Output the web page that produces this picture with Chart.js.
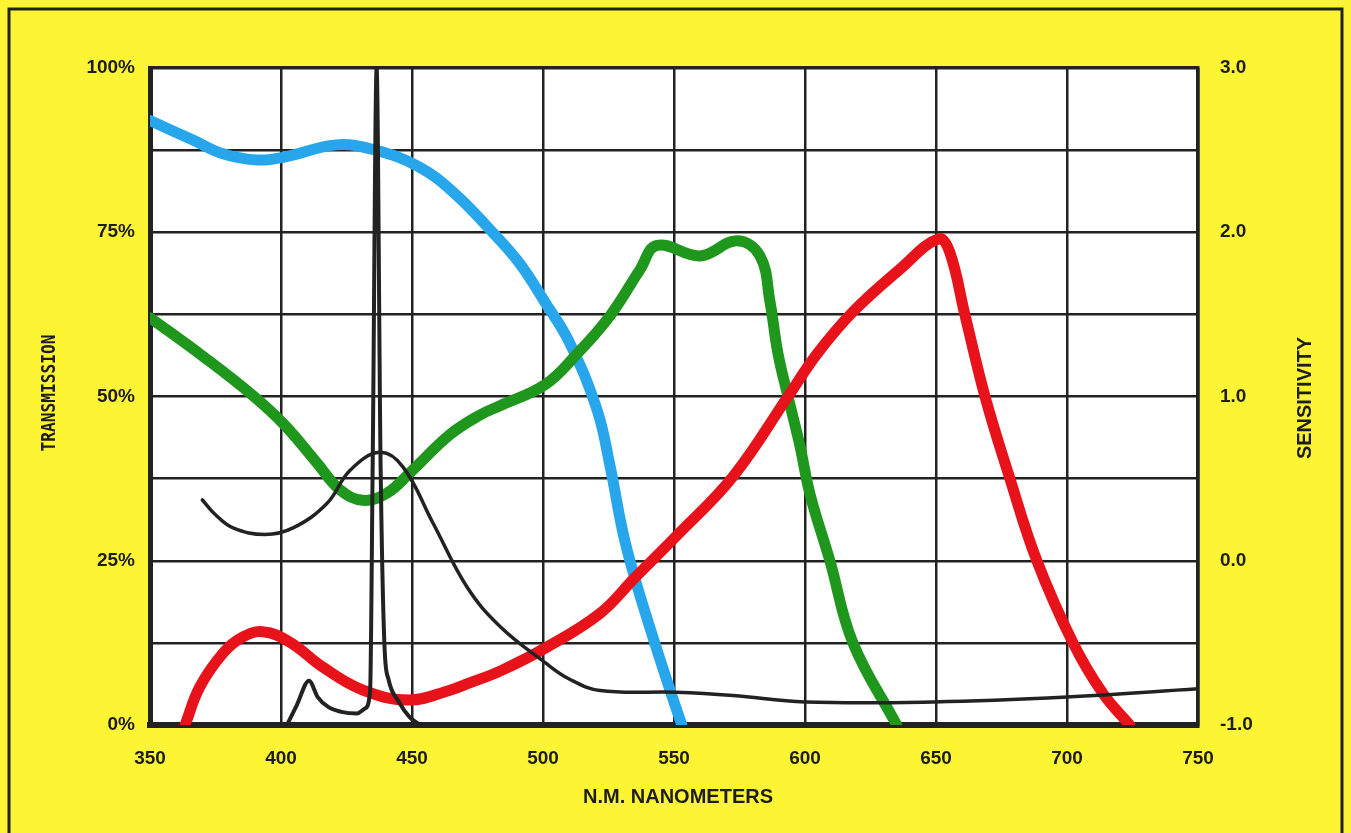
<!DOCTYPE html>
<html lang="en">
<head>
  <meta charset="UTF-8">
  <title>Transmission / Sensitivity</title>
  <script src="https://cdn.jsdelivr.net/npm/chart.js"></script>
  <style>
    body {
      margin: 0;
      padding: 0;
      background: #fdf433;
    }
    canvas {
      display: block;
    }
  </style>
</head>
<body>
  <canvas id="filterChart" width="1351" height="833"></canvas>

  <script>
    // blue filter, transmission %
    const blueNm = [350, 366.6, 377.5, 391, 402, 421, 436, 452.5, 466, 480, 491, 500.5, 510, 520.6, 525.6, 530.5, 535, 542, 548.5, 553];
    const blueT = [92, 89, 87, 86, 86.5, 88.3, 87.5, 85, 81, 75.3, 70.3, 64.5, 58.3, 48, 39.4, 29.3, 22.4, 13.3, 5.3, 0];

    // green filter
    const greenNm = [350, 370.6, 389.7, 401.5, 413.7, 422.5, 431.3, 440.5, 449.2, 464.5, 476, 483.6, 500.8, 513, 525.6, 537, 543.5, 560, 574, 582.8, 586.6, 589.7, 593.5, 598, 602, 609.5, 618.3, 635];
    const greenT = [62, 56, 50, 45.6, 39.9, 35.8, 34.2, 35.3, 38.4, 44.2, 47.2, 48.6, 51.8, 56.5, 62.3, 69.3, 73, 71.4, 73.7, 71.4, 64.5, 56.5, 50, 42.6, 35, 25, 12.5, 0];

    // red filter
    const redNm = [363.4, 369, 378, 385, 393, 403.4, 416, 431.3, 449, 464.5, 472, 483.6, 500.8, 521.8, 535, 551, 572.5, 593.5, 604.6, 618.3, 636, 651, 655.3, 661, 668.7, 678.2, 688.5, 702.3, 713.7, 724];
    const redT = [0, 5.8, 11, 13.3, 14.2, 12.6, 8.8, 5.3, 3.8, 5.3, 6.4, 8.2, 11.7, 17, 22.4, 28.8, 37.8, 50, 56.5, 62.9, 69.3, 74, 71.9, 62.5, 50, 37.5, 25, 12.5, 4.8, 0];

    // black smooth curve, sensitivity
    const smoothNm = [370, 375, 381.7, 393.9, 404.6, 417.6, 426.3, 437.8, 446.6, 458, 471, 483.6, 500.8, 510, 521.8, 551, 572.5, 600, 649, 700, 750];
    const smoothS = [0.37, 0.28, 0.2, 0.16, 0.2, 0.35, 0.55, 0.66, 0.57, 0.23, -0.16, -0.4, -0.62, -0.72, -0.79, -0.8, -0.82, -0.86, -0.86, -0.83, -0.78];

    // black line spectrum, sensitivity
    const lineNm = [402.3, 406, 410.7, 414, 418, 423, 429, 432, 434, 435, 436.5, 438, 439.5, 441, 445, 449, 453];
    const lineS = [-1, -0.88, -0.73, -0.83, -0.89, -0.92, -0.93, -0.9, -0.8, 0.6, 3, 0.6, -0.52, -0.72, -0.86, -0.95, -1];

    const xTicks = [350, 750, 50];
    const leftTicks = [0, 100, 12.5];
    const rightTicks = [-1, 3, 0.5];

    const toPoints = (xs, ys) => xs.map((x, i) => ({ x: x, y: ys[i] }));

    const INK = '#222222';
    const LABEL_FONT = 'Liberation Sans, Arial, sans-serif';

    const paperPlugin = {
      id: 'paper',
      beforeDraw(chart) {
        const { ctx, chartArea: a, width, height } = chart;
        ctx.save();
        ctx.fillStyle = '#fdf433';
        ctx.fillRect(0, 0, width, height);
        ctx.fillStyle = '#ffffff';
        ctx.fillRect(a.left, a.top, a.right - a.left, a.bottom - a.top);
        ctx.restore();
      },
      afterDraw(chart) {
        const { ctx, width } = chart;
        ctx.save();
        ctx.fillStyle = '#1d1d1d';
        ctx.textAlign = 'center';
        ctx.textBaseline = 'middle';

        ctx.font = 'bold 20px ' + LABEL_FONT;
        ctx.fillText('N.M. NANOMETERS', 678, 797);

        // narrow lettering on the left title
        ctx.save();
        ctx.translate(50, 393);
        ctx.rotate(-Math.PI / 2);
        ctx.scale(0.81, 1);
        ctx.font = 'bold 20px "DejaVu Sans Mono", monospace';
        ctx.fillText('TRANSMISSION', 0, 0);
        ctx.restore();

        ctx.save();
        ctx.translate(1305, 398);
        ctx.rotate(-Math.PI / 2);
        ctx.font = 'bold 20px ' + LABEL_FONT;
        ctx.fillText('SENSITIVITY', 0, 0);
        ctx.restore();

        // outer frame of the sheet
        ctx.strokeStyle = INK;
        ctx.lineWidth = 3;
        ctx.strokeRect(9, 9, width - 18, 840);
        ctx.restore();
      }
    };

    const curve = (label, data, color, width, axis, smooth) => ({
      label: label,
      data: data,
      yAxisID: axis,
      borderColor: color,
      borderWidth: width,
      pointRadius: 0,
      fill: false,
      tension: 0.4,
      cubicInterpolationMode: smooth ? 'default' : 'monotone',
      borderCapStyle: 'round',
      borderJoinStyle: 'round'
    });

    const chartCtx = document.getElementById('filterChart').getContext('2d');
    new Chart(chartCtx, {
      type: 'line',
      data: {
        datasets: [
          curve('Sensitivity', toPoints(smoothNm, smoothS), INK, 3.5, 'y1', true),
          curve('Line spectrum', toPoints(lineNm, lineS), INK, 4, 'y1', false),
          curve('Red', toPoints(redNm, redT), '#e8121b', 11, 'y', true),
          curve('Green', toPoints(greenNm, greenT), '#1f961c', 11, 'y', true),
          curve('Blue', toPoints(blueNm, blueT), '#27a6ec', 11, 'y', true)
        ]
      },
      options: {
        responsive: false,
        animation: false,
        layout: { padding: { top: 68, left: 0, right: 0, bottom: 0 } },
        plugins: {
          legend: { display: false },
          tooltip: { enabled: false }
        },
        scales: {
          x: {
            type: 'linear',
            min: xTicks[0],
            max: xTicks[1],
            ticks: {
              stepSize: xTicks[2],
              color: '#1d1d1d',
              padding: 22,
              font: { family: LABEL_FONT, size: 19, weight: 'bold' }
            },
            grid: { color: INK, lineWidth: 2.5, drawTicks: false },
            border: { display: true, color: INK, width: 6 },
            afterFit(s) { s.height = 108; }
          },
          y: {
            position: 'left',
            min: leftTicks[0],
            max: leftTicks[1],
            ticks: {
              stepSize: leftTicks[2],
              color: '#1d1d1d',
              padding: 15,
              font: { family: LABEL_FONT, size: 19, weight: 'bold' },
              callback: v => (v % 25 === 0 ? v + '%' : '')
            },
            grid: {
              color: INK,
              lineWidth: c => (c.tick && c.tick.value === 100 ? 3.5 : 2.5),
              drawTicks: false
            },
            border: { display: true, color: INK, width: 5 },
            afterFit(s) { s.width = 150; }
          },
          y1: {
            position: 'right',
            min: rightTicks[0],
            max: rightTicks[1],
            ticks: {
              stepSize: rightTicks[2],
              color: '#1d1d1d',
              padding: 22,
              font: { family: LABEL_FONT, size: 19, weight: 'bold' },
              callback: v => (Number.isInteger(v) ? v.toFixed(1) : '')
            },
            grid: { display: false, drawTicks: false },
            border: { display: true, color: INK, width: 3.5 },
            afterFit(s) { s.width = 153; }
          }
        }
      },
      plugins: [paperPlugin]
    });
  </script>
</body>
</html>
